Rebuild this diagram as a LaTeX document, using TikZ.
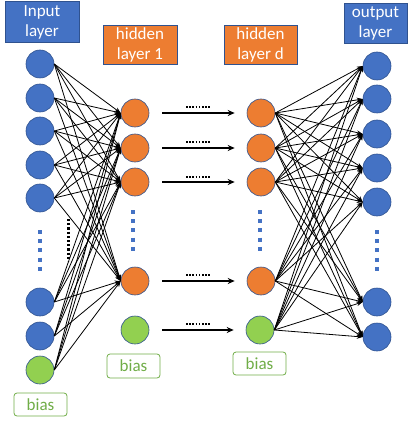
\documentclass[tikz,border=0pt]{standalone}
\usepackage{fontspec}
\setmainfont{Carlito}
\usetikzlibrary{arrows.meta}
\definecolor{cblue}{HTML}{4472C4}
\definecolor{cedge}{HTML}{2F528F}
\definecolor{corange}{HTML}{ED7D31}
\definecolor{cgreen}{HTML}{92D050}
\definecolor{cbias}{HTML}{70AD47}
\begin{document}
\begin{tikzpicture}[x=1pt,y=-1pt,
  neuron/.style={circle,minimum size=28pt,inner sep=0pt,draw=cedge,line width=0.6pt},
  inn/.style={neuron,fill=cblue},
  hid/.style={neuron,fill=corange},
  bnode/.style={neuron,fill=cgreen},
  title/.style={draw=cedge,line width=0.8pt,text=white,align=center,inner sep=0pt,
    font=\fontsize{17pt}{20pt}\selectfont},
  biasbox/.style={draw=cbias,line width=0.8pt,rounded corners=3pt,text=cbias,
    minimum width=53pt,minimum height=23pt,inner sep=0pt,fill=white,
    font=\fontsize{17pt}{20pt}\selectfont},
  conn/.style={line width=0.8pt,-{Stealth[length=6pt,width=4.5pt]}},
  big/.style={line width=1.6pt,-{Stealth[length=7pt,width=6pt]},shorten <=13pt,shorten >=12pt},
  bluedots/.style={cblue,line width=4pt,dash pattern=on 4pt off 5.2pt},
  smalldots/.style={line width=1.6pt,dash pattern=on 1.6pt off 1.6pt}
]
\useasboundingbox (0,0) rectangle (414,422);
% titles
\node[title,fill=cblue,minimum width=74pt,minimum height=41pt] (tin) at (42,22) {Input\\layer};
\node[title,fill=corange,minimum width=74pt,minimum height=39pt] (th1) at (140,44.5) {hidden\\layer 1};
\node[title,fill=corange,minimum width=73pt,minimum height=39pt] (thd) at (260.5,44.5) {hidden\\layer d};
\node[title,fill=cblue,minimum width=63pt,minimum height=40pt] (tout) at (375.5,23) {output\\layer};
% input layer
\foreach \n/\y in {1/64,2/98,3/131,4/165,5/198,6/302,7/336}
  \node[inn] (i\n) at (40,\y) {};
\node[bnode] (ib) at (40,370) {};
% hidden 1
\foreach \n/\y in {1/113,2/148,3/182,4/281}
  \node[hid] (h\n) at (135,\y) {};
\node[bnode] (hb) at (135,330) {};
% hidden d
\foreach \n/\y in {1/113,2/148,3/182,4/281}
  \node[hid] (d\n) at (261,\y) {};
\node[bnode] (db) at (260,330) {};
% output
\foreach \n/\y in {1/66,2/99,3/134,4/168,5/202,6/302,7/337}
  \node[inn] (o\n) at (377,\y) {};
% connections input -> hidden 1
\foreach \a in {1,...,7,b}
  \foreach \b in {1,...,4}
    \draw[conn] (i\a.east) -- (h\b.west);
% connections hidden d -> output
\foreach \a in {1,...,4,b}
  \foreach \b in {1,...,7}
    \draw[conn] (d\a.east) -- (o\b.west);
% horizontal arrows
\foreach \a in {1,...,4,b}
  \draw[big] (h\a) -- (d\a);
% small dots above arrows
\coordinate (s1) at (186,107); \coordinate (e1) at (211,107);
\coordinate (s2) at (186,142); \coordinate (e2) at (211,142);
\coordinate (s3) at (186,177); \coordinate (e3) at (211,177);
\coordinate (s4) at (186,275); \coordinate (e4) at (211,275);
\coordinate (s5) at (186,324); \coordinate (e5) at (211,324);
\foreach \k in {1,...,5}
  \draw[smalldots] (s\k) -- (e\k);
% blue vertical dots
\coordinate (ia) at (40,230); \coordinate (ib2) at (40,272);
\draw[bluedots] (ia) -- (ib2);
\coordinate (ha) at (133,210); \coordinate (hb2) at (133,252);
\draw[bluedots] (ha) -- (hb2);
\coordinate (da) at (260,210); \coordinate (db2) at (260,252);
\draw[bluedots] (da) -- (db2);
\coordinate (oa) at (377,230); \coordinate (ob2) at (377,272);
\draw[bluedots] (oa) -- (ob2);
% black dotted column
\coordinate (ka) at (68.5,219); \coordinate (kb) at (68.5,261);
\draw[line width=2.2pt,dash pattern=on 2.2pt off 2pt] (ka) -- (kb);
% bias labels
\node[biasbox] (lb0) at (40.5,404.5) {bias};
\node[biasbox,minimum height=24pt] (lb1) at (133.5,366) {bias};
\node[biasbox] (lbd) at (259.5,363.5) {bias};
\end{tikzpicture}
\end{document}
